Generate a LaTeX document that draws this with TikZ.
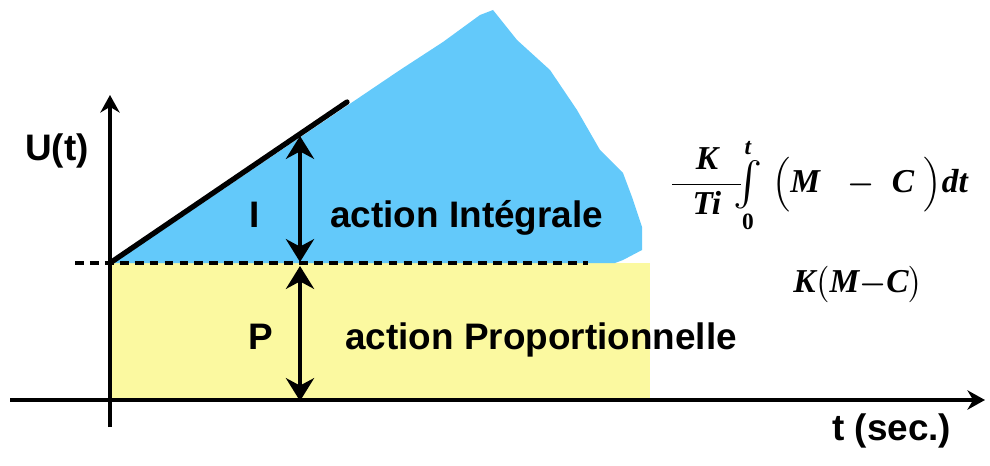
\documentclass[tikz,border=0pt]{standalone}
\usepackage{fontspec}
\usepackage{amsmath}
\setmainfont{Liberation Sans}
\newfontfamily\tmsbi{Liberation Serif}
\newcommand\fv[1]{\text{\tmsbi\bfseries\itshape #1}}
\newcommand\grandint{\mathop{\vcenter{\hbox{\fontsize{31}{31}\selectfont$\int$}}}\limits}
\usetikzlibrary{arrows.meta}
\definecolor{bleuI}{RGB}{99,201,250}
\definecolor{jauneP}{RGB}{251,249,160}

\begin{document}
\begin{tikzpicture}[x=0.02cm, y=-0.02cm,
  axis/.style={line width=1.9pt, -{Stealth[length=10pt,width=11pt]}},
  dbl/.style={line width=2.4pt, {Stealth[length=13pt,width=16pt]}-{Stealth[length=13pt,width=16pt]}},
  lbl/.style={font=\fontsize{21}{25}\selectfont\bfseries, anchor=base west, inner sep=0pt},
  formule/.style={font=\fontsize{19}{23}\selectfont\boldmath, anchor=base west, inner sep=0pt},
]
  \useasboundingbox (0,0) rectangle (990,466);

  % Points
  \coordinate (p0) at (110,263);
  \coordinate (rampe) at (347,102);
  \coordinate (ybas) at (110,427);
  \coordinate (yhaut) at (110,95);
  \coordinate (xgauche) at (10,400);
  \coordinate (xdroite) at (985,400);
  \coordinate (dash0) at (75,263);
  \coordinate (dash1) at (588,263);
  \coordinate (iHaut) at (300,136);
  \coordinate (iBas) at (300,262);
  \coordinate (pHaut) at (300,266);
  \coordinate (pBas) at (300,401);

  % Zones
  \fill[jauneP] (110,263) rectangle (650,398);
  \fill[bleuI] (114,263) -- (400,70) -- (443,42) -- (480,15) -- (493,10)
    -- (517,40) -- (550,70) -- (577,110) -- (600,150) -- (623,173)
    -- (632,197) -- (642,227) -- (642,250) -- (623,260) -- (615,263) -- cycle;

  % Axes
  \draw[line width=2pt, dash pattern=on 5pt off 3.5pt] (dash0) -- (dash1);
  \draw[axis] (ybas) -- (yhaut);
  \draw[axis] (xgauche) -- (xdroite);

  % Rampe et actions
  \draw[line width=3pt, line cap=round] (p0) -- (rampe);
  \draw[dbl] (iBas) -- (iHaut);
  \draw[dbl] (pHaut) -- (pBas);

  % Textes
  \node[lbl] (ut) at (25,160) {U(t)};
  \node[lbl] (tsec) at (832,440) {t (sec.)};
  \node[lbl] (lblI) at (249,227) {I};
  \node[lbl] (actI) at (330,227) {action Intégrale};
  \node[lbl] (lblP) at (248,349) {P};
  \node[lbl] (actP) at (345,349) {action Proportionnelle};

  % Formules
  \node[formule] (fint) at (670,192)
    {$\dfrac{\fv{K}}{\hspace{11.5pt}\fv{Ti}\hspace{11.5pt}}\hspace{-9pt}\grandint_{\text{\tmsbi\bfseries 0}}^{\fv{t}}\;\Bigl(\fv{M}\;\;-\;\fv{C}\;\Bigr)\fv{dt}$};
  \node[formule] (fprop) at (793,292) {$\fv{K}\bigl(\fv{M}{-}\fv{C}\bigr)$};

\end{tikzpicture}
\end{document}
